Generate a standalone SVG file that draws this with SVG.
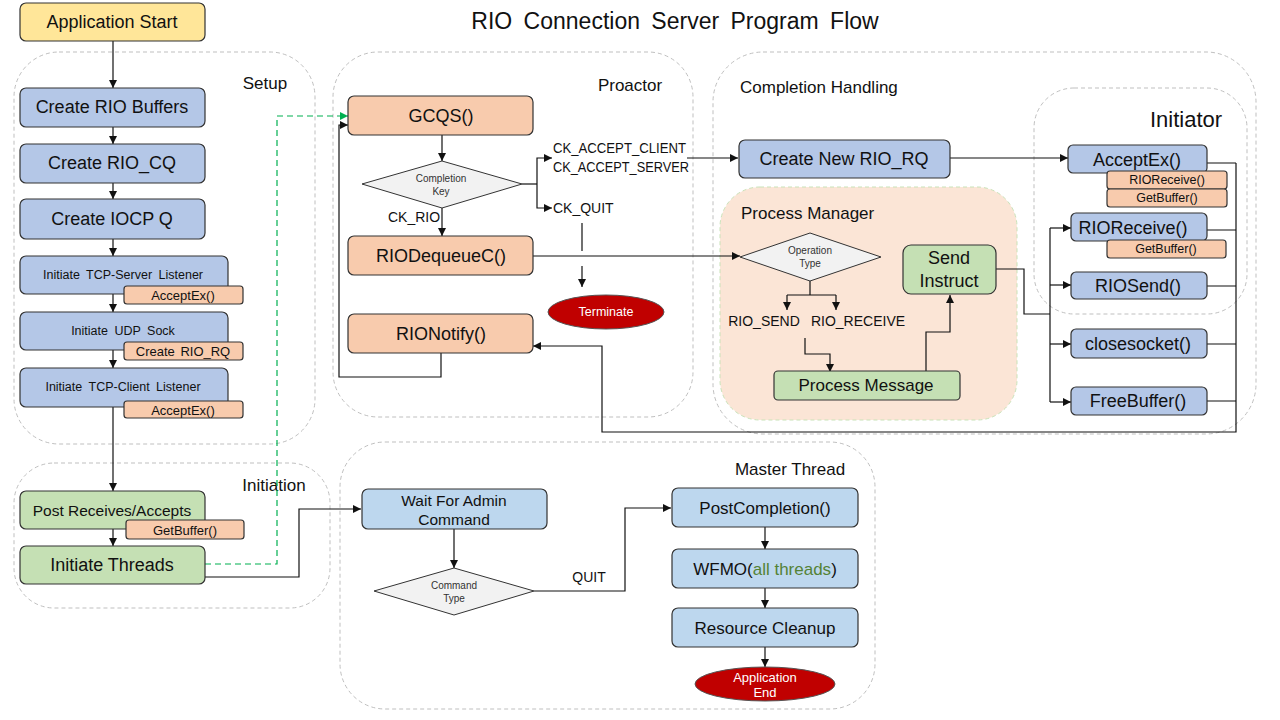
<svg xmlns="http://www.w3.org/2000/svg" width="1280" height="720" viewBox="0 0 1280 720">
<style>
text{font-family:"Liberation Sans",Arial,sans-serif;fill:#111;}
.c{text-anchor:middle;dominant-baseline:central;}
.grp{fill:none;stroke:#BFBFBF;stroke-width:1;stroke-dasharray:4 3;}
.box{stroke:#333;stroke-width:1.2;}
.blue{fill:#B4C7E7;}
.lblue{fill:#BDD7EE;}
.org{fill:#F8CBAD;}
.grn{fill:#C5E0B4;}
.yel{fill:#FFE699;}
.dia{fill:#F2F2F2;stroke:#333;stroke-width:1;}
.term{fill:#C00000;stroke:#555;stroke-width:1;}
.wt{fill:#fff;}
.ln{fill:none;stroke:#111;stroke-width:1.2;}
.arr{marker-end:url(#ah);}
.t18{font-size:18px;}
.t17{font-size:17px;}
.t16{font-size:16px;}
.t15{font-size:15.5px;}
.t14{font-size:14px;}
.t13{font-size:13px;}
.t12{font-size:12.5px;}
.t10{font-size:10px;fill:#333;}
</style>
<defs>
<marker id="ah" markerWidth="9" markerHeight="9" refX="8" refY="4" orient="auto" markerUnits="userSpaceOnUse"><path d="M0,0 L8,4 L0,8 z" fill="#111"/></marker>
<marker id="ahg" markerWidth="9" markerHeight="9" refX="8" refY="4" orient="auto" markerUnits="userSpaceOnUse"><path d="M0,0 L8,4 L0,8 z" fill="#00B050"/></marker>
</defs>
<rect width="1280" height="720" fill="#fff"/>
<text x="675" y="21" class="c" style="font-size:23px" word-spacing="5">RIO Connection Server Program Flow</text>

<!-- containers -->
<g id="setup-group">
<rect class="grp" x="14" y="52" width="301" height="392" rx="45"/>
<text x="265" y="83" class="c t17">Setup</text>
</g>
<g id="initiation-group">
<rect class="grp" x="14" y="463" width="316" height="145" rx="40"/>
<text x="274" y="485" class="c t17">Initiation</text>
</g>
<g id="proactor-group">
<rect class="grp" x="333" y="52" width="360" height="365" rx="45"/>
<text x="630" y="85" class="c t17">Proactor</text>
</g>
<g id="completion-group">
<rect class="grp" x="713" y="52" width="543" height="382" rx="50"/>
<text x="740" y="87" class="t17" dominant-baseline="central">Completion Handling</text>
</g>
<g id="initiator-group">
<rect class="grp" x="1034" y="88" width="213" height="226" rx="40"/>
<text x="1186" y="119" class="c" style="font-size:22px">Initiator</text>
</g>
<g id="process-manager-group">
<rect x="720" y="187" width="297" height="233" rx="40" fill="#FBE5D6" stroke="#C9E2B8" stroke-dasharray="4 3"/>
<text x="741" y="213" class="t17" dominant-baseline="central">Process Manager</text>
</g>
<g id="master-group">
<rect class="grp" x="340" y="442" width="535" height="267" rx="45"/>
<text x="790" y="469" class="c t17">Master Thread</text>
</g>

<!-- connectors -->
<g id="connectors">
<path class="ln arr" d="M113,41 V88"/>
<path class="ln arr" d="M113,127 V144"/>
<path class="ln arr" d="M113,183 V199"/>
<path class="ln arr" d="M113,239 V256"/>
<path class="ln arr" d="M113,294 V312"/>
<path class="ln arr" d="M113,350 V368"/>
<path class="ln arr" d="M113,407 V491"/>
<path class="ln arr" d="M113,529 V546"/>
<path d="M205,564 H277 V116 H348" fill="none" stroke="#00B050" stroke-width="1.2" stroke-dasharray="6 4" marker-end="url(#ahg)"/>
<path class="ln arr" d="M205,577 H299 V509 H361"/>
<path class="ln arr" d="M442,135 V161"/>
<path class="ln arr" d="M442,208 V236"/>
<path class="ln" d="M522,184 H537"/>
<path class="ln arr" d="M537,184 V158 H552"/>
<path class="ln arr" d="M537,184 V208 H552"/>
<path class="ln arr" d="M687,158 H738"/>
<path class="ln" d="M582,223 V251"/>
<path class="ln arr" d="M582,266 V287"/>
<path class="ln arr" d="M533,256 H740"/>
<path class="ln arr" d="M441,353 V377 H339 V125 H348"/>
<path class="ln arr" d="M950,158 H1068"/>
<path class="ln" d="M1207,163 H1236 M1207,230 H1236 M1207,286 H1236 M1207,344 H1236 M1207,401 H1236"/>
<path class="ln arr" d="M1236,163 V432 H602 V346 H533"/>
<path class="ln" d="M996,269 H1024 V314 H1050 M1050,228 V402"/>
<path class="ln arr" d="M1050,228 H1071"/>
<path class="ln arr" d="M1050,285 H1071"/>
<path class="ln arr" d="M1050,344 H1071"/>
<path class="ln arr" d="M1050,402 H1071"/>
<path class="ln" d="M810,281 V295 M787,295 H836"/>
<path class="ln arr" d="M787,295 V310"/>
<path class="ln arr" d="M836,295 V310"/>
<path class="ln arr" d="M805,338 V354 H830 V372"/>
<path class="ln arr" d="M926,372 V332 H950 V295"/>
<path class="ln arr" d="M454,529 V568"/>
<path class="ln arr" d="M534,591 H625 V508 H671"/>
<path class="ln arr" d="M765,527 V549"/>
<path class="ln arr" d="M765,588 V608"/>
<path class="ln arr" d="M765,647 V667"/>
</g>

<!-- setup nodes -->
<g id="app-start"><rect class="box yel" x="20" y="3" width="185" height="38" rx="6"/><text x="112" y="22" class="c t18">Application Start</text></g>
<g id="create-rio-buffers"><rect class="box blue" x="20" y="88" width="185" height="39" rx="6"/><text x="112" y="107" class="c t18">Create RIO Buffers</text></g>
<g id="create-rio-cq"><rect class="box blue" x="20" y="144" width="185" height="39" rx="6"/><text x="112" y="163" class="c t18">Create RIO_CQ</text></g>
<g id="create-iocp-q"><rect class="box blue" x="20" y="199" width="185" height="40" rx="6"/><text x="112" y="219" class="c t18">Create IOCP Q</text></g>
<g id="tcp-server"><rect class="box blue" x="20" y="256" width="208" height="38" rx="6"/><text x="123" y="275" class="c t12" word-spacing="3">Initiate TCP-Server Listener</text>
<rect class="box org" x="124" y="286" width="119" height="18" rx="3"/><text x="183" y="295" class="c t13">AcceptEx()</text></g>
<g id="udp-sock"><rect class="box blue" x="20" y="312" width="208" height="38" rx="6"/><text x="123" y="331" class="c t12" word-spacing="3">Initiate UDP Sock</text>
<rect class="box org" x="124" y="342" width="119" height="18" rx="3"/><text x="183" y="351" class="c t13" word-spacing="2">Create RIO_RQ</text></g>
<g id="tcp-client"><rect class="box blue" x="20" y="368" width="208" height="39" rx="6"/><text x="123" y="387" class="c t12" word-spacing="3">Initiate TCP-Client Listener</text>
<rect class="box org" x="124" y="401" width="119" height="17" rx="3"/><text x="183" y="410" class="c t13">AcceptEx()</text></g>

<!-- initiation -->
<g id="post-receives"><rect class="box grn" x="20" y="491" width="185" height="38" rx="6"/><text x="112" y="510" class="c t15">Post Receives/Accepts</text>
<rect class="box org" x="126" y="520" width="118" height="19" rx="3"/><text x="185" y="530" class="c t13">GetBuffer()</text></g>
<g id="initiate-threads"><rect class="box grn" x="20" y="546" width="185" height="38" rx="6"/><text x="112" y="565" class="c t18">Initiate Threads</text></g>

<!-- proactor -->
<g id="gcqs"><rect class="box org" x="348" y="96" width="185" height="39" rx="6"/><text x="441" y="116" class="c t18">GCQS()</text></g>
<g id="completion-key"><polygon class="dia" points="362,184 442,161 522,184 442,208"/><text x="441" y="178" class="c t10">Completion</text><text x="441" y="191" class="c t10">Key</text></g>
<text x="414" y="217" class="c t14">CK_RIO</text>
<text x="553" y="148" class="t14" dominant-baseline="central" textLength="133" lengthAdjust="spacingAndGlyphs">CK_ACCEPT_CLIENT</text>
<text x="553" y="167" class="t14" dominant-baseline="central" textLength="136" lengthAdjust="spacingAndGlyphs">CK_ACCEPT_SERVER</text>
<text x="553" y="208" class="t14" dominant-baseline="central">CK_QUIT</text>
<g id="riodequeuec"><rect class="box org" x="348" y="236" width="185" height="39" rx="6"/><text x="441" y="256" class="c t18">RIODequeueC()</text></g>
<g id="terminate"><ellipse class="term" cx="606" cy="312" rx="58" ry="17"/><text x="606" y="312" class="c wt" style="font-size:12.5px">Terminate</text></g>
<g id="rionotify"><rect class="box org" x="348" y="314" width="185" height="39" rx="6"/><text x="441" y="334" class="c t18">RIONotify()</text></g>

<!-- completion handling -->
<g id="create-new-rio-rq"><rect class="box blue" x="739" y="140" width="211" height="38" rx="6"/><text x="844" y="159" class="c t18">Create New RIO_RQ</text></g>
<g id="operation-type"><polygon class="dia" points="740,257 810,233 881,257 810,281"/><text x="810" y="250" class="c t10">Operation</text><text x="810" y="263" class="c t10">Type</text></g>
<text x="764" y="321" class="c t14">RIO_SEND</text>
<text x="858" y="321" class="c t14">RIO_RECEIVE</text>
<g id="send-instruct"><rect class="box grn" x="903" y="245" width="93" height="49" rx="8"/><text x="949" y="258" class="c t18">Send</text><text x="949" y="281" class="c t18">Instruct</text></g>
<g id="process-message"><rect class="box grn" x="774" y="371" width="186" height="29" rx="4"/><text x="866" y="385" class="c t17">Process Message</text></g>

<!-- initiator -->
<g id="acceptex"><rect class="box blue" x="1068" y="145" width="139" height="28" rx="5"/><text x="1137" y="160" class="c t18">AcceptEx()</text>
<rect class="box org" x="1107" y="171" width="120" height="18" rx="3"/><text x="1167" y="180" class="c t12">RIOReceive()</text>
<rect class="box org" x="1107" y="189" width="120" height="18" rx="3"/><text x="1167" y="198" class="c t12">GetBuffer()</text></g>
<g id="rioreceive"><rect class="box blue" x="1071" y="213" width="136" height="28" rx="5"/><text x="1133" y="228" class="c t18">RIOReceive()</text>
<rect class="box org" x="1107" y="240" width="119" height="18" rx="3"/><text x="1166" y="249" class="c t12">GetBuffer()</text></g>
<g id="riosend"><rect class="box blue" x="1071" y="272" width="136" height="27" rx="5"/><text x="1138" y="286" class="c t18">RIOSend()</text></g>
<g id="closesocket"><rect class="box blue" x="1071" y="329" width="136" height="29" rx="5"/><text x="1138" y="344" class="c t18">closesocket()</text></g>
<g id="freebuffer"><rect class="box blue" x="1071" y="387" width="136" height="28" rx="5"/><text x="1138" y="401" class="c t18">FreeBuffer()</text></g>

<!-- master thread -->
<g id="wait-admin"><rect class="box lblue" x="362" y="489" width="185" height="40" rx="6"/><text x="454" y="500" class="c t15">Wait For Admin</text><text x="454" y="519" class="c t15">Command</text></g>
<g id="command-type"><polygon class="dia" points="374,591 454,568 534,591 454,615"/><text x="454" y="585" class="c t10">Command</text><text x="454" y="598" class="c t10">Type</text></g>
<text x="589" y="577" class="c t14">QUIT</text>
<g id="post-completion"><rect class="box lblue" x="672" y="488" width="186" height="39" rx="6"/><text x="765" y="508" class="c t17">PostCompletion()</text></g>
<g id="wfmo"><rect class="box lblue" x="672" y="549" width="186" height="39" rx="6"/><text x="765" y="569" class="c t17">WFMO(<tspan fill="#548235">all threads</tspan>)</text></g>
<g id="resource-cleanup"><rect class="box lblue" x="672" y="608" width="186" height="39" rx="6"/><text x="765" y="628" class="c t17">Resource Cleanup</text></g>
<g id="app-end"><ellipse class="term" cx="765" cy="684" rx="70" ry="17"/><text x="765" y="677" class="c wt t13">Application</text><text x="765" y="692" class="c wt t13">End</text></g>
</svg>
